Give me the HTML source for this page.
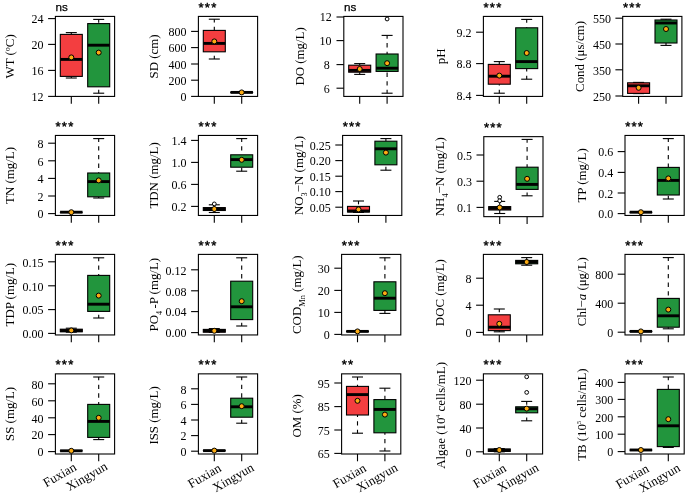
<!DOCTYPE html>
<html><head><meta charset="utf-8"><title>Boxplots</title>
<style>
html,body{margin:0;padding:0;background:#fff;}
svg{display:block;will-change:transform;opacity:0.999;}
text{fill:#000;}
.s{font-family:"Liberation Serif",serif;font-size:12px;}
.l{font-family:"Liberation Serif",serif;font-size:12.9px;}
.ns{font-family:"Liberation Sans",sans-serif;font-size:11.7px;stroke:#000;stroke-width:0.25px;}
.st{font-family:"Liberation Sans",sans-serif;font-size:13.2px;letter-spacing:1.14px;stroke:#000;stroke-width:0.4px;}
</style></head><body>
<svg width="685" height="496" viewBox="0 0 685 496">
<rect x="0" y="0" width="685" height="496" fill="#fff"/>
<line x1="71.30" y1="32.60" x2="71.30" y2="34.40" stroke="#000" stroke-width="1.1" stroke-dasharray="4.35 4.3" stroke-dashoffset="1"/>
<line x1="71.30" y1="78.00" x2="71.30" y2="76.40" stroke="#000" stroke-width="1.1" stroke-dasharray="4.35 4.3" stroke-dashoffset="1"/>
<line x1="65.80" y1="32.60" x2="76.80" y2="32.60" stroke="#000" stroke-width="1.1"/>
<line x1="65.80" y1="78.00" x2="76.80" y2="78.00" stroke="#000" stroke-width="1.1"/>
<rect x="60.30" y="34.40" width="22.00" height="42.00" fill="#f33e40" stroke="#000" stroke-width="1.1"/>
<line x1="60.30" y1="59.40" x2="82.30" y2="59.40" stroke="#000" stroke-width="2.9"/>
<circle cx="71.30" cy="57.40" r="2.5" fill="#fbab12" stroke="#000" stroke-width="1.0"/>
<line x1="98.70" y1="19.40" x2="98.70" y2="23.60" stroke="#000" stroke-width="1.1" stroke-dasharray="4.35 4.3" stroke-dashoffset="1"/>
<line x1="98.70" y1="93.20" x2="98.70" y2="86.80" stroke="#000" stroke-width="1.1" stroke-dasharray="4.35 4.3" stroke-dashoffset="1"/>
<line x1="93.20" y1="19.40" x2="104.20" y2="19.40" stroke="#000" stroke-width="1.1"/>
<line x1="93.20" y1="93.20" x2="104.20" y2="93.20" stroke="#000" stroke-width="1.1"/>
<rect x="87.70" y="23.60" width="22.00" height="63.20" fill="#22953d" stroke="#000" stroke-width="1.1"/>
<line x1="87.70" y1="45.20" x2="109.70" y2="45.20" stroke="#000" stroke-width="2.9"/>
<circle cx="98.70" cy="52.60" r="2.5" fill="#fbab12" stroke="#000" stroke-width="1.0"/>
<rect x="55.40" y="16.42" width="59.20" height="80.00" fill="none" stroke="#000" stroke-width="1.1"/>
<line x1="48.10" y1="18.60" x2="55.40" y2="18.60" stroke="#000" stroke-width="1.1"/>
<text x="43.60" y="23.40" text-anchor="end" class="s">24</text>
<line x1="48.10" y1="44.40" x2="55.40" y2="44.40" stroke="#000" stroke-width="1.1"/>
<text x="43.60" y="49.20" text-anchor="end" class="s">20</text>
<line x1="48.10" y1="70.40" x2="55.40" y2="70.40" stroke="#000" stroke-width="1.1"/>
<text x="43.60" y="75.20" text-anchor="end" class="s">16</text>
<line x1="48.10" y1="96.40" x2="55.40" y2="96.40" stroke="#000" stroke-width="1.1"/>
<text x="43.60" y="101.20" text-anchor="end" class="s">12</text>
<line x1="71.30" y1="96.42" x2="71.30" y2="103.72" stroke="#000" stroke-width="1.1"/>
<line x1="98.70" y1="96.42" x2="98.70" y2="103.72" stroke="#000" stroke-width="1.1"/>
<text transform="translate(14.30,56.42) rotate(-90)" text-anchor="middle" class="l">WT (ºC)</text>
<text x="55.60" y="11.02" class="ns">ns</text>
<line x1="214.30" y1="19.20" x2="214.30" y2="30.40" stroke="#000" stroke-width="1.1" stroke-dasharray="4.35 4.3" stroke-dashoffset="1"/>
<line x1="214.30" y1="59.00" x2="214.30" y2="51.80" stroke="#000" stroke-width="1.1" stroke-dasharray="4.35 4.3" stroke-dashoffset="1"/>
<line x1="208.80" y1="19.20" x2="219.80" y2="19.20" stroke="#000" stroke-width="1.1"/>
<line x1="208.80" y1="59.00" x2="219.80" y2="59.00" stroke="#000" stroke-width="1.1"/>
<rect x="203.30" y="30.40" width="22.00" height="21.40" fill="#f33e40" stroke="#000" stroke-width="1.1"/>
<line x1="203.30" y1="43.40" x2="225.30" y2="43.40" stroke="#000" stroke-width="2.9"/>
<circle cx="214.30" cy="41.40" r="2.5" fill="#fbab12" stroke="#000" stroke-width="1.0"/>
<line x1="230.70" y1="92.40" x2="252.70" y2="92.40" stroke="#000" stroke-width="1.1" stroke-linecap="round"/>
<line x1="230.50" y1="92.40" x2="252.90" y2="92.40" stroke="#000" stroke-width="2.9"/>
<circle cx="241.70" cy="92.40" r="2.5" fill="#fbab12" stroke="#000" stroke-width="1.0"/>
<rect x="198.40" y="16.42" width="59.20" height="80.00" fill="none" stroke="#000" stroke-width="1.1"/>
<line x1="191.10" y1="31.40" x2="198.40" y2="31.40" stroke="#000" stroke-width="1.1"/>
<text x="186.60" y="36.20" text-anchor="end" class="s">800</text>
<line x1="191.10" y1="47.60" x2="198.40" y2="47.60" stroke="#000" stroke-width="1.1"/>
<text x="186.60" y="52.40" text-anchor="end" class="s">600</text>
<line x1="191.10" y1="64.00" x2="198.40" y2="64.00" stroke="#000" stroke-width="1.1"/>
<text x="186.60" y="68.80" text-anchor="end" class="s">400</text>
<line x1="191.10" y1="80.20" x2="198.40" y2="80.20" stroke="#000" stroke-width="1.1"/>
<text x="186.60" y="85.00" text-anchor="end" class="s">200</text>
<line x1="191.10" y1="96.40" x2="198.40" y2="96.40" stroke="#000" stroke-width="1.1"/>
<text x="186.60" y="101.20" text-anchor="end" class="s">0</text>
<line x1="214.30" y1="96.42" x2="214.30" y2="103.72" stroke="#000" stroke-width="1.1"/>
<line x1="241.70" y1="96.42" x2="241.70" y2="103.72" stroke="#000" stroke-width="1.1"/>
<text transform="translate(158.00,56.42) rotate(-90)" text-anchor="middle" class="l">SD (cm)</text>
<text x="198.60" y="11.92" class="st">***</text>
<line x1="359.70" y1="63.60" x2="359.70" y2="65.20" stroke="#000" stroke-width="1.1" stroke-dasharray="4.35 4.3" stroke-dashoffset="1"/>
<line x1="359.70" y1="74.40" x2="359.70" y2="72.20" stroke="#000" stroke-width="1.1" stroke-dasharray="4.35 4.3" stroke-dashoffset="1"/>
<line x1="354.20" y1="63.60" x2="365.20" y2="63.60" stroke="#000" stroke-width="1.1"/>
<line x1="354.20" y1="74.40" x2="365.20" y2="74.40" stroke="#000" stroke-width="1.1"/>
<rect x="348.70" y="65.20" width="22.00" height="7.00" fill="#f33e40" stroke="#000" stroke-width="1.1"/>
<line x1="348.70" y1="70.40" x2="370.70" y2="70.40" stroke="#000" stroke-width="2.9"/>
<circle cx="359.70" cy="69.00" r="2.5" fill="#fbab12" stroke="#000" stroke-width="1.0"/>
<line x1="387.10" y1="35.40" x2="387.10" y2="54.00" stroke="#000" stroke-width="1.1" stroke-dasharray="4.35 4.3" stroke-dashoffset="1"/>
<line x1="387.10" y1="93.20" x2="387.10" y2="71.40" stroke="#000" stroke-width="1.1" stroke-dasharray="4.35 4.3" stroke-dashoffset="1"/>
<line x1="381.60" y1="35.40" x2="392.60" y2="35.40" stroke="#000" stroke-width="1.1"/>
<line x1="381.60" y1="93.20" x2="392.60" y2="93.20" stroke="#000" stroke-width="1.1"/>
<rect x="376.10" y="54.00" width="22.00" height="17.40" fill="#22953d" stroke="#000" stroke-width="1.1"/>
<line x1="376.10" y1="68.20" x2="398.10" y2="68.20" stroke="#000" stroke-width="2.9"/>
<circle cx="387.10" cy="19.00" r="1.9" fill="#fff" stroke="#000" stroke-width="1.0"/>
<circle cx="387.10" cy="63.20" r="2.5" fill="#fbab12" stroke="#000" stroke-width="1.0"/>
<rect x="343.80" y="16.42" width="59.20" height="80.00" fill="none" stroke="#000" stroke-width="1.1"/>
<line x1="336.50" y1="17.00" x2="343.80" y2="17.00" stroke="#000" stroke-width="1.1"/>
<text x="331.70" y="20.80" text-anchor="end" class="s">12</text>
<line x1="336.50" y1="40.60" x2="343.80" y2="40.60" stroke="#000" stroke-width="1.1"/>
<text x="331.60" y="45.40" text-anchor="end" class="s">10</text>
<line x1="336.50" y1="64.60" x2="343.80" y2="64.60" stroke="#000" stroke-width="1.1"/>
<text x="329.70" y="69.40" text-anchor="end" class="s">8</text>
<line x1="336.50" y1="88.20" x2="343.80" y2="88.20" stroke="#000" stroke-width="1.1"/>
<text x="329.70" y="93.00" text-anchor="end" class="s">6</text>
<line x1="359.70" y1="96.42" x2="359.70" y2="103.72" stroke="#000" stroke-width="1.1"/>
<line x1="387.10" y1="96.42" x2="387.10" y2="103.72" stroke="#000" stroke-width="1.1"/>
<text transform="translate(304.00,56.42) rotate(-90)" text-anchor="middle" class="l">DO (mg/L)</text>
<text x="344.00" y="11.02" class="ns">ns</text>
<line x1="499.30" y1="61.60" x2="499.30" y2="64.40" stroke="#000" stroke-width="1.1" stroke-dasharray="4.35 4.3" stroke-dashoffset="1"/>
<line x1="499.30" y1="93.20" x2="499.30" y2="84.20" stroke="#000" stroke-width="1.1" stroke-dasharray="4.35 4.3" stroke-dashoffset="1"/>
<line x1="493.80" y1="61.60" x2="504.80" y2="61.60" stroke="#000" stroke-width="1.1"/>
<line x1="493.80" y1="93.20" x2="504.80" y2="93.20" stroke="#000" stroke-width="1.1"/>
<rect x="488.30" y="64.40" width="22.00" height="19.80" fill="#f33e40" stroke="#000" stroke-width="1.1"/>
<line x1="488.30" y1="76.20" x2="510.30" y2="76.20" stroke="#000" stroke-width="2.9"/>
<circle cx="499.30" cy="75.60" r="2.5" fill="#fbab12" stroke="#000" stroke-width="1.0"/>
<line x1="526.70" y1="19.40" x2="526.70" y2="27.80" stroke="#000" stroke-width="1.1" stroke-dasharray="4.35 4.3" stroke-dashoffset="1"/>
<line x1="526.70" y1="79.20" x2="526.70" y2="68.60" stroke="#000" stroke-width="1.1" stroke-dasharray="4.35 4.3" stroke-dashoffset="1"/>
<line x1="521.20" y1="19.40" x2="532.20" y2="19.40" stroke="#000" stroke-width="1.1"/>
<line x1="521.20" y1="79.20" x2="532.20" y2="79.20" stroke="#000" stroke-width="1.1"/>
<rect x="515.70" y="27.80" width="22.00" height="40.80" fill="#22953d" stroke="#000" stroke-width="1.1"/>
<line x1="515.70" y1="61.60" x2="537.70" y2="61.60" stroke="#000" stroke-width="2.9"/>
<circle cx="526.70" cy="53.00" r="2.5" fill="#fbab12" stroke="#000" stroke-width="1.0"/>
<rect x="483.40" y="16.42" width="59.20" height="80.00" fill="none" stroke="#000" stroke-width="1.1"/>
<line x1="476.10" y1="32.20" x2="483.40" y2="32.20" stroke="#000" stroke-width="1.1"/>
<text x="471.60" y="37.00" text-anchor="end" class="s">9.2</text>
<line x1="476.10" y1="63.60" x2="483.40" y2="63.60" stroke="#000" stroke-width="1.1"/>
<text x="471.60" y="68.40" text-anchor="end" class="s">8.8</text>
<line x1="476.10" y1="95.40" x2="483.40" y2="95.40" stroke="#000" stroke-width="1.1"/>
<text x="471.60" y="100.20" text-anchor="end" class="s">8.4</text>
<line x1="499.30" y1="96.42" x2="499.30" y2="103.72" stroke="#000" stroke-width="1.1"/>
<line x1="526.70" y1="96.42" x2="526.70" y2="103.72" stroke="#000" stroke-width="1.1"/>
<text transform="translate(445.40,56.42) rotate(-90)" text-anchor="middle" class="l">pH</text>
<text x="483.60" y="11.92" class="st">***</text>
<line x1="638.60" y1="82.40" x2="638.60" y2="82.80" stroke="#000" stroke-width="1.1" stroke-dasharray="4.35 4.3" stroke-dashoffset="1"/>
<line x1="638.60" y1="93.60" x2="638.60" y2="93.40" stroke="#000" stroke-width="1.1" stroke-dasharray="4.35 4.3" stroke-dashoffset="1"/>
<line x1="633.10" y1="82.40" x2="644.10" y2="82.40" stroke="#000" stroke-width="1.1"/>
<line x1="633.10" y1="93.60" x2="644.10" y2="93.60" stroke="#000" stroke-width="1.1"/>
<rect x="627.60" y="82.80" width="22.00" height="10.60" fill="#f33e40" stroke="#000" stroke-width="1.1"/>
<line x1="627.60" y1="85.80" x2="649.60" y2="85.80" stroke="#000" stroke-width="2.9"/>
<circle cx="638.60" cy="87.80" r="2.5" fill="#fbab12" stroke="#000" stroke-width="1.0"/>
<line x1="666.00" y1="19.20" x2="666.00" y2="20.00" stroke="#000" stroke-width="1.1" stroke-dasharray="4.35 4.3" stroke-dashoffset="1"/>
<line x1="666.00" y1="45.40" x2="666.00" y2="43.00" stroke="#000" stroke-width="1.1" stroke-dasharray="4.35 4.3" stroke-dashoffset="1"/>
<line x1="660.50" y1="19.20" x2="671.50" y2="19.20" stroke="#000" stroke-width="1.1"/>
<line x1="660.50" y1="45.40" x2="671.50" y2="45.40" stroke="#000" stroke-width="1.1"/>
<rect x="655.00" y="20.00" width="22.00" height="23.00" fill="#22953d" stroke="#000" stroke-width="1.1"/>
<line x1="655.00" y1="23.00" x2="677.00" y2="23.00" stroke="#000" stroke-width="2.9"/>
<circle cx="666.00" cy="29.00" r="2.5" fill="#fbab12" stroke="#000" stroke-width="1.0"/>
<rect x="622.70" y="16.42" width="59.20" height="80.00" fill="none" stroke="#000" stroke-width="1.1"/>
<line x1="615.40" y1="18.20" x2="622.70" y2="18.20" stroke="#000" stroke-width="1.1"/>
<text x="610.90" y="23.00" text-anchor="end" class="s">550</text>
<line x1="615.40" y1="44.00" x2="622.70" y2="44.00" stroke="#000" stroke-width="1.1"/>
<text x="610.90" y="48.80" text-anchor="end" class="s">450</text>
<line x1="615.40" y1="69.80" x2="622.70" y2="69.80" stroke="#000" stroke-width="1.1"/>
<text x="610.90" y="74.60" text-anchor="end" class="s">350</text>
<line x1="615.40" y1="96.00" x2="622.70" y2="96.00" stroke="#000" stroke-width="1.1"/>
<text x="610.90" y="100.80" text-anchor="end" class="s">250</text>
<line x1="638.60" y1="96.42" x2="638.60" y2="103.72" stroke="#000" stroke-width="1.1"/>
<line x1="666.00" y1="96.42" x2="666.00" y2="103.72" stroke="#000" stroke-width="1.1"/>
<text transform="translate(583.60,56.42) rotate(-90)" text-anchor="middle" class="l">Cond (μs/cm)</text>
<text x="622.90" y="11.92" class="st">***</text>
<line x1="60.30" y1="212.20" x2="82.30" y2="212.20" stroke="#000" stroke-width="1.1" stroke-linecap="round"/>
<line x1="60.10" y1="212.20" x2="82.50" y2="212.20" stroke="#000" stroke-width="2.9"/>
<circle cx="71.30" cy="212.20" r="2.5" fill="#fbab12" stroke="#000" stroke-width="1.0"/>
<line x1="98.70" y1="138.60" x2="98.70" y2="173.00" stroke="#000" stroke-width="1.1" stroke-dasharray="4.35 4.3" stroke-dashoffset="1"/>
<line x1="98.70" y1="198.00" x2="98.70" y2="196.80" stroke="#000" stroke-width="1.1" stroke-dasharray="4.35 4.3" stroke-dashoffset="1"/>
<line x1="93.20" y1="138.60" x2="104.20" y2="138.60" stroke="#000" stroke-width="1.1"/>
<line x1="93.20" y1="198.00" x2="104.20" y2="198.00" stroke="#000" stroke-width="1.1"/>
<rect x="87.70" y="173.00" width="22.00" height="23.80" fill="#22953d" stroke="#000" stroke-width="1.1"/>
<line x1="87.70" y1="181.60" x2="109.70" y2="181.60" stroke="#000" stroke-width="2.9"/>
<circle cx="98.70" cy="180.40" r="2.5" fill="#fbab12" stroke="#000" stroke-width="1.0"/>
<rect x="55.40" y="135.45" width="59.20" height="80.00" fill="none" stroke="#000" stroke-width="1.1"/>
<line x1="48.10" y1="143.20" x2="55.40" y2="143.20" stroke="#000" stroke-width="1.1"/>
<text x="43.60" y="148.00" text-anchor="end" class="s">8</text>
<line x1="48.10" y1="160.80" x2="55.40" y2="160.80" stroke="#000" stroke-width="1.1"/>
<text x="43.60" y="165.60" text-anchor="end" class="s">6</text>
<line x1="48.10" y1="178.40" x2="55.40" y2="178.40" stroke="#000" stroke-width="1.1"/>
<text x="43.60" y="183.20" text-anchor="end" class="s">4</text>
<line x1="48.10" y1="196.00" x2="55.40" y2="196.00" stroke="#000" stroke-width="1.1"/>
<text x="43.60" y="200.80" text-anchor="end" class="s">2</text>
<line x1="48.10" y1="213.60" x2="55.40" y2="213.60" stroke="#000" stroke-width="1.1"/>
<text x="43.60" y="218.40" text-anchor="end" class="s">0</text>
<line x1="71.30" y1="215.45" x2="71.30" y2="222.75" stroke="#000" stroke-width="1.1"/>
<line x1="98.70" y1="215.45" x2="98.70" y2="222.75" stroke="#000" stroke-width="1.1"/>
<text transform="translate(14.30,175.45) rotate(-90)" text-anchor="middle" class="l">TN (mg/L)</text>
<text x="55.60" y="130.95" class="st">***</text>
<line x1="214.30" y1="204.80" x2="214.30" y2="207.60" stroke="#000" stroke-width="1.1" stroke-dasharray="4.35 4.3" stroke-dashoffset="1"/>
<line x1="214.30" y1="212.50" x2="214.30" y2="210.50" stroke="#000" stroke-width="1.1" stroke-dasharray="4.35 4.3" stroke-dashoffset="1"/>
<line x1="208.80" y1="204.80" x2="219.80" y2="204.80" stroke="#000" stroke-width="1.1"/>
<line x1="208.80" y1="212.50" x2="219.80" y2="212.50" stroke="#000" stroke-width="1.1"/>
<rect x="203.30" y="207.60" width="22.00" height="2.90" fill="#f33e40" stroke="#000" stroke-width="1.1"/>
<line x1="203.30" y1="209.05" x2="225.30" y2="209.05" stroke="#000" stroke-width="2.9"/>
<circle cx="214.30" cy="203.90" r="1.9" fill="#fff" stroke="#000" stroke-width="1.0"/>
<circle cx="214.30" cy="209.00" r="2.5" fill="#fbab12" stroke="#000" stroke-width="1.0"/>
<line x1="241.70" y1="138.60" x2="241.70" y2="154.80" stroke="#000" stroke-width="1.1" stroke-dasharray="4.35 4.3" stroke-dashoffset="1"/>
<line x1="241.70" y1="171.20" x2="241.70" y2="167.20" stroke="#000" stroke-width="1.1" stroke-dasharray="4.35 4.3" stroke-dashoffset="1"/>
<line x1="236.20" y1="138.60" x2="247.20" y2="138.60" stroke="#000" stroke-width="1.1"/>
<line x1="236.20" y1="171.20" x2="247.20" y2="171.20" stroke="#000" stroke-width="1.1"/>
<rect x="230.70" y="154.80" width="22.00" height="12.40" fill="#22953d" stroke="#000" stroke-width="1.1"/>
<line x1="230.70" y1="159.60" x2="252.70" y2="159.60" stroke="#000" stroke-width="2.9"/>
<circle cx="241.70" cy="159.80" r="2.5" fill="#fbab12" stroke="#000" stroke-width="1.0"/>
<rect x="198.40" y="135.45" width="59.20" height="80.00" fill="none" stroke="#000" stroke-width="1.1"/>
<line x1="191.10" y1="140.40" x2="198.40" y2="140.40" stroke="#000" stroke-width="1.1"/>
<text x="186.60" y="145.20" text-anchor="end" class="s">1.4</text>
<line x1="191.10" y1="162.40" x2="198.40" y2="162.40" stroke="#000" stroke-width="1.1"/>
<text x="186.60" y="167.20" text-anchor="end" class="s">1.0</text>
<line x1="191.10" y1="184.40" x2="198.40" y2="184.40" stroke="#000" stroke-width="1.1"/>
<text x="186.60" y="189.20" text-anchor="end" class="s">0.6</text>
<line x1="191.10" y1="206.40" x2="198.40" y2="206.40" stroke="#000" stroke-width="1.1"/>
<text x="186.60" y="211.20" text-anchor="end" class="s">0.2</text>
<line x1="214.30" y1="215.45" x2="214.30" y2="222.75" stroke="#000" stroke-width="1.1"/>
<line x1="241.70" y1="215.45" x2="241.70" y2="222.75" stroke="#000" stroke-width="1.1"/>
<text transform="translate(158.00,175.45) rotate(-90)" text-anchor="middle" class="l">TDN (mg/L)</text>
<text x="198.60" y="130.95" class="st">***</text>
<line x1="358.50" y1="201.00" x2="358.50" y2="206.40" stroke="#000" stroke-width="1.1" stroke-dasharray="4.35 4.3" stroke-dashoffset="1"/>
<line x1="358.50" y1="212.40" x2="358.50" y2="212.00" stroke="#000" stroke-width="1.1" stroke-dasharray="4.35 4.3" stroke-dashoffset="1"/>
<line x1="353.00" y1="201.00" x2="364.00" y2="201.00" stroke="#000" stroke-width="1.1"/>
<line x1="353.00" y1="212.40" x2="364.00" y2="212.40" stroke="#000" stroke-width="1.1"/>
<rect x="347.50" y="206.40" width="22.00" height="5.60" fill="#f33e40" stroke="#000" stroke-width="1.1"/>
<line x1="347.50" y1="211.00" x2="369.50" y2="211.00" stroke="#000" stroke-width="2.9"/>
<circle cx="358.50" cy="209.40" r="2.5" fill="#fbab12" stroke="#000" stroke-width="1.0"/>
<line x1="385.90" y1="138.60" x2="385.90" y2="141.20" stroke="#000" stroke-width="1.1" stroke-dasharray="4.35 4.3" stroke-dashoffset="1"/>
<line x1="385.90" y1="170.20" x2="385.90" y2="164.80" stroke="#000" stroke-width="1.1" stroke-dasharray="4.35 4.3" stroke-dashoffset="1"/>
<line x1="380.40" y1="138.60" x2="391.40" y2="138.60" stroke="#000" stroke-width="1.1"/>
<line x1="380.40" y1="170.20" x2="391.40" y2="170.20" stroke="#000" stroke-width="1.1"/>
<rect x="374.90" y="141.20" width="22.00" height="23.60" fill="#22953d" stroke="#000" stroke-width="1.1"/>
<line x1="374.90" y1="148.80" x2="396.90" y2="148.80" stroke="#000" stroke-width="2.9"/>
<circle cx="385.90" cy="152.60" r="2.5" fill="#fbab12" stroke="#000" stroke-width="1.0"/>
<rect x="342.60" y="135.45" width="59.20" height="80.00" fill="none" stroke="#000" stroke-width="1.1"/>
<line x1="335.30" y1="145.00" x2="342.60" y2="145.00" stroke="#000" stroke-width="1.1"/>
<text x="330.80" y="149.80" text-anchor="end" class="s">0.25</text>
<line x1="335.30" y1="160.60" x2="342.60" y2="160.60" stroke="#000" stroke-width="1.1"/>
<text x="330.80" y="165.40" text-anchor="end" class="s">0.20</text>
<line x1="335.30" y1="176.20" x2="342.60" y2="176.20" stroke="#000" stroke-width="1.1"/>
<text x="330.80" y="181.00" text-anchor="end" class="s">0.15</text>
<line x1="335.30" y1="191.60" x2="342.60" y2="191.60" stroke="#000" stroke-width="1.1"/>
<text x="330.80" y="196.40" text-anchor="end" class="s">0.10</text>
<line x1="335.30" y1="207.20" x2="342.60" y2="207.20" stroke="#000" stroke-width="1.1"/>
<text x="330.80" y="212.00" text-anchor="end" class="s">0.05</text>
<line x1="358.50" y1="215.45" x2="358.50" y2="222.75" stroke="#000" stroke-width="1.1"/>
<line x1="385.90" y1="215.45" x2="385.90" y2="222.75" stroke="#000" stroke-width="1.1"/>
<text transform="translate(302.80,175.45) rotate(-90)" text-anchor="middle" class="l">NO<tspan dy="3.7" font-size="8.4">3</tspan><tspan dy="-3.7">​</tspan>−N (mg/L)</text>
<text x="342.80" y="130.95" class="st">***</text>
<line x1="499.70" y1="201.40" x2="499.70" y2="206.60" stroke="#000" stroke-width="1.1" stroke-dasharray="4.35 4.3" stroke-dashoffset="1"/>
<line x1="499.70" y1="213.50" x2="499.70" y2="210.00" stroke="#000" stroke-width="1.1" stroke-dasharray="4.35 4.3" stroke-dashoffset="1"/>
<line x1="494.20" y1="201.40" x2="505.20" y2="201.40" stroke="#000" stroke-width="1.1"/>
<line x1="494.20" y1="213.50" x2="505.20" y2="213.50" stroke="#000" stroke-width="1.1"/>
<rect x="488.70" y="206.60" width="22.00" height="3.40" fill="#f33e40" stroke="#000" stroke-width="1.1"/>
<line x1="488.70" y1="208.30" x2="510.70" y2="208.30" stroke="#000" stroke-width="2.9"/>
<circle cx="499.70" cy="197.30" r="1.9" fill="#fff" stroke="#000" stroke-width="1.0"/>
<circle cx="499.70" cy="200.80" r="1.9" fill="#fff" stroke="#000" stroke-width="1.0"/>
<circle cx="499.70" cy="207.50" r="2.5" fill="#fbab12" stroke="#000" stroke-width="1.0"/>
<line x1="527.10" y1="139.40" x2="527.10" y2="167.20" stroke="#000" stroke-width="1.1" stroke-dasharray="4.35 4.3" stroke-dashoffset="1"/>
<line x1="527.10" y1="195.80" x2="527.10" y2="189.40" stroke="#000" stroke-width="1.1" stroke-dasharray="4.35 4.3" stroke-dashoffset="1"/>
<line x1="521.60" y1="139.40" x2="532.60" y2="139.40" stroke="#000" stroke-width="1.1"/>
<line x1="521.60" y1="195.80" x2="532.60" y2="195.80" stroke="#000" stroke-width="1.1"/>
<rect x="516.10" y="167.20" width="22.00" height="22.20" fill="#22953d" stroke="#000" stroke-width="1.1"/>
<line x1="516.10" y1="184.40" x2="538.10" y2="184.40" stroke="#000" stroke-width="2.9"/>
<circle cx="527.10" cy="178.80" r="2.5" fill="#fbab12" stroke="#000" stroke-width="1.0"/>
<rect x="483.80" y="136.65" width="59.20" height="80.00" fill="none" stroke="#000" stroke-width="1.1"/>
<line x1="476.50" y1="155.00" x2="483.80" y2="155.00" stroke="#000" stroke-width="1.1"/>
<text x="472.00" y="159.80" text-anchor="end" class="s">0.5</text>
<line x1="476.50" y1="181.20" x2="483.80" y2="181.20" stroke="#000" stroke-width="1.1"/>
<text x="472.00" y="186.00" text-anchor="end" class="s">0.3</text>
<line x1="476.50" y1="207.40" x2="483.80" y2="207.40" stroke="#000" stroke-width="1.1"/>
<text x="472.00" y="212.20" text-anchor="end" class="s">0.1</text>
<line x1="499.70" y1="216.65" x2="499.70" y2="223.95" stroke="#000" stroke-width="1.1"/>
<line x1="527.10" y1="216.65" x2="527.10" y2="223.95" stroke="#000" stroke-width="1.1"/>
<text transform="translate(444.40,176.65) rotate(-90)" text-anchor="middle" class="l">NH<tspan dy="3.7" font-size="8.4">4</tspan><tspan dy="-3.7">​</tspan>−N (mg/L)</text>
<text x="484.00" y="132.15" class="st">***</text>
<line x1="629.90" y1="212.20" x2="651.90" y2="212.20" stroke="#000" stroke-width="1.1" stroke-linecap="round"/>
<line x1="629.70" y1="212.20" x2="652.10" y2="212.20" stroke="#000" stroke-width="2.9"/>
<circle cx="640.90" cy="212.20" r="2.5" fill="#fbab12" stroke="#000" stroke-width="1.0"/>
<line x1="668.30" y1="138.60" x2="668.30" y2="167.40" stroke="#000" stroke-width="1.1" stroke-dasharray="4.35 4.3" stroke-dashoffset="1"/>
<line x1="668.30" y1="199.00" x2="668.30" y2="195.00" stroke="#000" stroke-width="1.1" stroke-dasharray="4.35 4.3" stroke-dashoffset="1"/>
<line x1="662.80" y1="138.60" x2="673.80" y2="138.60" stroke="#000" stroke-width="1.1"/>
<line x1="662.80" y1="199.00" x2="673.80" y2="199.00" stroke="#000" stroke-width="1.1"/>
<rect x="657.30" y="167.40" width="22.00" height="27.60" fill="#22953d" stroke="#000" stroke-width="1.1"/>
<line x1="657.30" y1="180.40" x2="679.30" y2="180.40" stroke="#000" stroke-width="2.9"/>
<circle cx="668.30" cy="178.40" r="2.5" fill="#fbab12" stroke="#000" stroke-width="1.0"/>
<rect x="625.00" y="135.45" width="59.20" height="80.00" fill="none" stroke="#000" stroke-width="1.1"/>
<line x1="617.70" y1="151.60" x2="625.00" y2="151.60" stroke="#000" stroke-width="1.1"/>
<text x="613.20" y="156.40" text-anchor="end" class="s">0.6</text>
<line x1="617.70" y1="172.40" x2="625.00" y2="172.40" stroke="#000" stroke-width="1.1"/>
<text x="613.20" y="177.20" text-anchor="end" class="s">0.4</text>
<line x1="617.70" y1="193.00" x2="625.00" y2="193.00" stroke="#000" stroke-width="1.1"/>
<text x="613.20" y="197.80" text-anchor="end" class="s">0.2</text>
<line x1="617.70" y1="213.60" x2="625.00" y2="213.60" stroke="#000" stroke-width="1.1"/>
<text x="613.20" y="218.40" text-anchor="end" class="s">0.0</text>
<line x1="640.90" y1="215.45" x2="640.90" y2="222.75" stroke="#000" stroke-width="1.1"/>
<line x1="668.30" y1="215.45" x2="668.30" y2="222.75" stroke="#000" stroke-width="1.1"/>
<text transform="translate(586.20,175.45) rotate(-90)" text-anchor="middle" class="l">TP (mg/L)</text>
<text x="625.20" y="130.95" class="st">***</text>
<line x1="71.30" y1="328.20" x2="71.30" y2="329.20" stroke="#000" stroke-width="1.1" stroke-dasharray="4.35 4.3" stroke-dashoffset="1"/>
<line x1="71.30" y1="332.20" x2="71.30" y2="331.80" stroke="#000" stroke-width="1.1" stroke-dasharray="4.35 4.3" stroke-dashoffset="1"/>
<line x1="65.80" y1="328.20" x2="76.80" y2="328.20" stroke="#000" stroke-width="1.1"/>
<line x1="65.80" y1="332.20" x2="76.80" y2="332.20" stroke="#000" stroke-width="1.1"/>
<rect x="60.30" y="329.20" width="22.00" height="2.60" fill="#f33e40" stroke="#000" stroke-width="1.1"/>
<line x1="60.30" y1="330.60" x2="82.30" y2="330.60" stroke="#000" stroke-width="2.9"/>
<circle cx="71.30" cy="330.40" r="2.5" fill="#fbab12" stroke="#000" stroke-width="1.0"/>
<line x1="98.70" y1="257.80" x2="98.70" y2="275.40" stroke="#000" stroke-width="1.1" stroke-dasharray="4.35 4.3" stroke-dashoffset="1"/>
<line x1="98.70" y1="318.00" x2="98.70" y2="311.40" stroke="#000" stroke-width="1.1" stroke-dasharray="4.35 4.3" stroke-dashoffset="1"/>
<line x1="93.20" y1="257.80" x2="104.20" y2="257.80" stroke="#000" stroke-width="1.1"/>
<line x1="93.20" y1="318.00" x2="104.20" y2="318.00" stroke="#000" stroke-width="1.1"/>
<rect x="87.70" y="275.40" width="22.00" height="36.00" fill="#22953d" stroke="#000" stroke-width="1.1"/>
<line x1="87.70" y1="304.20" x2="109.70" y2="304.20" stroke="#000" stroke-width="2.9"/>
<circle cx="98.70" cy="295.60" r="2.5" fill="#fbab12" stroke="#000" stroke-width="1.0"/>
<rect x="55.40" y="254.40" width="59.20" height="80.55" fill="none" stroke="#000" stroke-width="1.1"/>
<line x1="48.10" y1="261.80" x2="55.40" y2="261.80" stroke="#000" stroke-width="1.1"/>
<text x="43.60" y="266.60" text-anchor="end" class="s">0.15</text>
<line x1="48.10" y1="285.80" x2="55.40" y2="285.80" stroke="#000" stroke-width="1.1"/>
<text x="43.60" y="290.60" text-anchor="end" class="s">0.10</text>
<line x1="48.10" y1="309.60" x2="55.40" y2="309.60" stroke="#000" stroke-width="1.1"/>
<text x="43.60" y="314.40" text-anchor="end" class="s">0.05</text>
<line x1="48.10" y1="333.40" x2="55.40" y2="333.40" stroke="#000" stroke-width="1.1"/>
<text x="43.60" y="338.20" text-anchor="end" class="s">0.00</text>
<line x1="71.30" y1="334.95" x2="71.30" y2="342.25" stroke="#000" stroke-width="1.1"/>
<line x1="98.70" y1="334.95" x2="98.70" y2="342.25" stroke="#000" stroke-width="1.1"/>
<text transform="translate(14.30,294.68) rotate(-90)" text-anchor="middle" class="l">TDP (mg/L)</text>
<text x="55.60" y="249.90" class="st">***</text>
<line x1="214.30" y1="328.60" x2="214.30" y2="329.40" stroke="#000" stroke-width="1.1" stroke-dasharray="4.35 4.3" stroke-dashoffset="1"/>
<line x1="214.30" y1="332.40" x2="214.30" y2="332.20" stroke="#000" stroke-width="1.1" stroke-dasharray="4.35 4.3" stroke-dashoffset="1"/>
<line x1="208.80" y1="328.60" x2="219.80" y2="328.60" stroke="#000" stroke-width="1.1"/>
<line x1="208.80" y1="332.40" x2="219.80" y2="332.40" stroke="#000" stroke-width="1.1"/>
<rect x="203.30" y="329.40" width="22.00" height="2.80" fill="#f33e40" stroke="#000" stroke-width="1.1"/>
<line x1="203.30" y1="330.80" x2="225.30" y2="330.80" stroke="#000" stroke-width="2.9"/>
<circle cx="214.30" cy="330.80" r="2.5" fill="#fbab12" stroke="#000" stroke-width="1.0"/>
<line x1="241.70" y1="257.80" x2="241.70" y2="281.20" stroke="#000" stroke-width="1.1" stroke-dasharray="4.35 4.3" stroke-dashoffset="1"/>
<line x1="241.70" y1="326.00" x2="241.70" y2="319.60" stroke="#000" stroke-width="1.1" stroke-dasharray="4.35 4.3" stroke-dashoffset="1"/>
<line x1="236.20" y1="257.80" x2="247.20" y2="257.80" stroke="#000" stroke-width="1.1"/>
<line x1="236.20" y1="326.00" x2="247.20" y2="326.00" stroke="#000" stroke-width="1.1"/>
<rect x="230.70" y="281.20" width="22.00" height="38.40" fill="#22953d" stroke="#000" stroke-width="1.1"/>
<line x1="230.70" y1="306.80" x2="252.70" y2="306.80" stroke="#000" stroke-width="2.9"/>
<circle cx="241.70" cy="301.20" r="2.5" fill="#fbab12" stroke="#000" stroke-width="1.0"/>
<rect x="198.40" y="254.40" width="59.20" height="80.55" fill="none" stroke="#000" stroke-width="1.1"/>
<line x1="191.10" y1="269.80" x2="198.40" y2="269.80" stroke="#000" stroke-width="1.1"/>
<text x="186.60" y="274.60" text-anchor="end" class="s">0.12</text>
<line x1="191.10" y1="290.80" x2="198.40" y2="290.80" stroke="#000" stroke-width="1.1"/>
<text x="186.60" y="295.60" text-anchor="end" class="s">0.08</text>
<line x1="191.10" y1="311.60" x2="198.40" y2="311.60" stroke="#000" stroke-width="1.1"/>
<text x="186.60" y="316.40" text-anchor="end" class="s">0.04</text>
<line x1="191.10" y1="332.60" x2="198.40" y2="332.60" stroke="#000" stroke-width="1.1"/>
<text x="186.60" y="337.40" text-anchor="end" class="s">0.00</text>
<line x1="214.30" y1="334.95" x2="214.30" y2="342.25" stroke="#000" stroke-width="1.1"/>
<line x1="241.70" y1="334.95" x2="241.70" y2="342.25" stroke="#000" stroke-width="1.1"/>
<text transform="translate(158.00,294.68) rotate(-90)" text-anchor="middle" class="l">PO<tspan dy="3.7" font-size="8.4">4</tspan><tspan dy="-3.7">​</tspan><tspan dx="2.2">-P (mg/L)</tspan></text>
<text x="198.60" y="249.90" class="st">***</text>
<line x1="346.50" y1="331.40" x2="368.50" y2="331.40" stroke="#000" stroke-width="1.1" stroke-linecap="round"/>
<line x1="346.30" y1="331.40" x2="368.70" y2="331.40" stroke="#000" stroke-width="2.9"/>
<circle cx="357.50" cy="331.40" r="2.5" fill="#fbab12" stroke="#000" stroke-width="1.0"/>
<line x1="384.90" y1="257.80" x2="384.90" y2="281.80" stroke="#000" stroke-width="1.1" stroke-dasharray="4.35 4.3" stroke-dashoffset="1"/>
<line x1="384.90" y1="313.40" x2="384.90" y2="310.40" stroke="#000" stroke-width="1.1" stroke-dasharray="4.35 4.3" stroke-dashoffset="1"/>
<line x1="379.40" y1="257.80" x2="390.40" y2="257.80" stroke="#000" stroke-width="1.1"/>
<line x1="379.40" y1="313.40" x2="390.40" y2="313.40" stroke="#000" stroke-width="1.1"/>
<rect x="373.90" y="281.80" width="22.00" height="28.60" fill="#22953d" stroke="#000" stroke-width="1.1"/>
<line x1="373.90" y1="298.20" x2="395.90" y2="298.20" stroke="#000" stroke-width="2.9"/>
<circle cx="384.90" cy="293.20" r="2.5" fill="#fbab12" stroke="#000" stroke-width="1.0"/>
<rect x="341.60" y="254.40" width="59.20" height="80.55" fill="none" stroke="#000" stroke-width="1.1"/>
<line x1="334.30" y1="268.20" x2="341.60" y2="268.20" stroke="#000" stroke-width="1.1"/>
<text x="329.80" y="273.00" text-anchor="end" class="s">30</text>
<line x1="334.30" y1="290.40" x2="341.60" y2="290.40" stroke="#000" stroke-width="1.1"/>
<text x="329.80" y="295.20" text-anchor="end" class="s">20</text>
<line x1="334.30" y1="312.40" x2="341.60" y2="312.40" stroke="#000" stroke-width="1.1"/>
<text x="329.80" y="317.20" text-anchor="end" class="s">10</text>
<line x1="334.30" y1="334.40" x2="341.60" y2="334.40" stroke="#000" stroke-width="1.1"/>
<text x="329.80" y="339.20" text-anchor="end" class="s">0</text>
<line x1="357.50" y1="334.95" x2="357.50" y2="342.25" stroke="#000" stroke-width="1.1"/>
<line x1="384.90" y1="334.95" x2="384.90" y2="342.25" stroke="#000" stroke-width="1.1"/>
<text transform="translate(301.20,294.68) rotate(-90)" text-anchor="middle" class="l">COD<tspan dy="3.7" font-size="8.4">Mn</tspan><tspan dy="-3.7">​</tspan> (mg/L)</text>
<text x="341.80" y="249.90" class="st">***</text>
<line x1="499.30" y1="309.00" x2="499.30" y2="314.80" stroke="#000" stroke-width="1.1" stroke-dasharray="4.35 4.3" stroke-dashoffset="1"/>
<line x1="499.30" y1="331.80" x2="499.30" y2="330.60" stroke="#000" stroke-width="1.1" stroke-dasharray="4.35 4.3" stroke-dashoffset="1"/>
<line x1="493.80" y1="309.00" x2="504.80" y2="309.00" stroke="#000" stroke-width="1.1"/>
<line x1="493.80" y1="331.80" x2="504.80" y2="331.80" stroke="#000" stroke-width="1.1"/>
<rect x="488.30" y="314.80" width="22.00" height="15.80" fill="#f33e40" stroke="#000" stroke-width="1.1"/>
<line x1="488.30" y1="327.20" x2="510.30" y2="327.20" stroke="#000" stroke-width="2.9"/>
<circle cx="499.30" cy="323.80" r="2.5" fill="#fbab12" stroke="#000" stroke-width="1.0"/>
<line x1="526.70" y1="257.60" x2="526.70" y2="260.40" stroke="#000" stroke-width="1.1" stroke-dasharray="4.35 4.3" stroke-dashoffset="1"/>
<line x1="526.70" y1="265.20" x2="526.70" y2="263.80" stroke="#000" stroke-width="1.1" stroke-dasharray="4.35 4.3" stroke-dashoffset="1"/>
<line x1="521.20" y1="257.60" x2="532.20" y2="257.60" stroke="#000" stroke-width="1.1"/>
<line x1="521.20" y1="265.20" x2="532.20" y2="265.20" stroke="#000" stroke-width="1.1"/>
<rect x="515.70" y="260.40" width="22.00" height="3.40" fill="#22953d" stroke="#000" stroke-width="1.1"/>
<line x1="515.70" y1="262.10" x2="537.70" y2="262.10" stroke="#000" stroke-width="2.9"/>
<circle cx="526.70" cy="262.00" r="2.5" fill="#fbab12" stroke="#000" stroke-width="1.0"/>
<rect x="483.40" y="254.40" width="59.20" height="80.55" fill="none" stroke="#000" stroke-width="1.1"/>
<line x1="476.10" y1="278.20" x2="483.40" y2="278.20" stroke="#000" stroke-width="1.1"/>
<text x="471.60" y="283.00" text-anchor="end" class="s">8</text>
<line x1="476.10" y1="305.20" x2="483.40" y2="305.20" stroke="#000" stroke-width="1.1"/>
<text x="471.60" y="310.00" text-anchor="end" class="s">4</text>
<line x1="476.10" y1="332.40" x2="483.40" y2="332.40" stroke="#000" stroke-width="1.1"/>
<text x="471.60" y="337.20" text-anchor="end" class="s">0</text>
<line x1="499.30" y1="334.95" x2="499.30" y2="342.25" stroke="#000" stroke-width="1.1"/>
<line x1="526.70" y1="334.95" x2="526.70" y2="342.25" stroke="#000" stroke-width="1.1"/>
<text transform="translate(444.00,292.68) rotate(-90)" text-anchor="middle" class="l">DOC (mg/L)</text>
<text x="483.60" y="249.90" class="st">***</text>
<line x1="629.90" y1="331.40" x2="651.90" y2="331.40" stroke="#000" stroke-width="1.1" stroke-linecap="round"/>
<line x1="629.70" y1="331.40" x2="652.10" y2="331.40" stroke="#000" stroke-width="2.9"/>
<circle cx="640.90" cy="331.40" r="2.5" fill="#fbab12" stroke="#000" stroke-width="1.0"/>
<line x1="668.30" y1="257.60" x2="668.30" y2="298.40" stroke="#000" stroke-width="1.1" stroke-dasharray="4.35 4.3" stroke-dashoffset="1"/>
<line x1="668.30" y1="328.80" x2="668.30" y2="327.20" stroke="#000" stroke-width="1.1" stroke-dasharray="4.35 4.3" stroke-dashoffset="1"/>
<line x1="662.80" y1="257.60" x2="673.80" y2="257.60" stroke="#000" stroke-width="1.1"/>
<line x1="662.80" y1="328.80" x2="673.80" y2="328.80" stroke="#000" stroke-width="1.1"/>
<rect x="657.30" y="298.40" width="22.00" height="28.80" fill="#22953d" stroke="#000" stroke-width="1.1"/>
<line x1="657.30" y1="315.80" x2="679.30" y2="315.80" stroke="#000" stroke-width="2.9"/>
<circle cx="668.30" cy="309.60" r="2.5" fill="#fbab12" stroke="#000" stroke-width="1.0"/>
<rect x="625.00" y="254.40" width="59.20" height="80.55" fill="none" stroke="#000" stroke-width="1.1"/>
<line x1="617.70" y1="274.20" x2="625.00" y2="274.20" stroke="#000" stroke-width="1.1"/>
<text x="613.20" y="279.00" text-anchor="end" class="s">800</text>
<line x1="617.70" y1="303.20" x2="625.00" y2="303.20" stroke="#000" stroke-width="1.1"/>
<text x="613.20" y="308.00" text-anchor="end" class="s">400</text>
<line x1="617.70" y1="332.20" x2="625.00" y2="332.20" stroke="#000" stroke-width="1.1"/>
<text x="613.20" y="337.00" text-anchor="end" class="s">0</text>
<line x1="640.90" y1="334.95" x2="640.90" y2="342.25" stroke="#000" stroke-width="1.1"/>
<line x1="668.30" y1="334.95" x2="668.30" y2="342.25" stroke="#000" stroke-width="1.1"/>
<text transform="translate(586.00,291.68) rotate(-90)" text-anchor="middle" class="l">Chl−<tspan font-style="italic">a</tspan> (μg/L)</text>
<text x="625.20" y="249.90" class="st">***</text>
<line x1="60.30" y1="450.80" x2="82.30" y2="450.80" stroke="#000" stroke-width="1.1" stroke-linecap="round"/>
<line x1="60.10" y1="450.80" x2="82.50" y2="450.80" stroke="#000" stroke-width="2.9"/>
<circle cx="71.30" cy="450.80" r="2.5" fill="#fbab12" stroke="#000" stroke-width="1.0"/>
<line x1="98.70" y1="377.00" x2="98.70" y2="404.40" stroke="#000" stroke-width="1.1" stroke-dasharray="4.35 4.3" stroke-dashoffset="1"/>
<line x1="98.70" y1="439.60" x2="98.70" y2="437.40" stroke="#000" stroke-width="1.1" stroke-dasharray="4.35 4.3" stroke-dashoffset="1"/>
<line x1="93.20" y1="377.00" x2="104.20" y2="377.00" stroke="#000" stroke-width="1.1"/>
<line x1="93.20" y1="439.60" x2="104.20" y2="439.60" stroke="#000" stroke-width="1.1"/>
<rect x="87.70" y="404.40" width="22.00" height="33.00" fill="#22953d" stroke="#000" stroke-width="1.1"/>
<line x1="87.70" y1="421.40" x2="109.70" y2="421.40" stroke="#000" stroke-width="2.9"/>
<circle cx="98.70" cy="417.80" r="2.5" fill="#fbab12" stroke="#000" stroke-width="1.0"/>
<rect x="55.40" y="373.85" width="59.20" height="80.15" fill="none" stroke="#000" stroke-width="1.1"/>
<line x1="48.10" y1="383.80" x2="55.40" y2="383.80" stroke="#000" stroke-width="1.1"/>
<text x="43.60" y="388.60" text-anchor="end" class="s">80</text>
<line x1="48.10" y1="400.80" x2="55.40" y2="400.80" stroke="#000" stroke-width="1.1"/>
<text x="43.60" y="405.60" text-anchor="end" class="s">60</text>
<line x1="48.10" y1="417.80" x2="55.40" y2="417.80" stroke="#000" stroke-width="1.1"/>
<text x="43.60" y="422.60" text-anchor="end" class="s">40</text>
<line x1="48.10" y1="434.60" x2="55.40" y2="434.60" stroke="#000" stroke-width="1.1"/>
<text x="43.60" y="439.40" text-anchor="end" class="s">20</text>
<line x1="48.10" y1="451.60" x2="55.40" y2="451.60" stroke="#000" stroke-width="1.1"/>
<text x="43.60" y="456.40" text-anchor="end" class="s">0</text>
<line x1="71.30" y1="454.00" x2="71.30" y2="461.30" stroke="#000" stroke-width="1.1"/>
<line x1="98.70" y1="454.00" x2="98.70" y2="461.30" stroke="#000" stroke-width="1.1"/>
<text transform="translate(14.30,413.93) rotate(-90)" text-anchor="middle" class="l">SS (mg/L)</text>
<text x="55.60" y="369.35" class="st">***</text>
<text transform="translate(77.30,469.50) rotate(-30)" text-anchor="end" class="l">Fuxian</text>
<text transform="translate(108.40,468.80) rotate(-30)" text-anchor="end" class="l">Xingyun</text>
<line x1="203.30" y1="450.60" x2="225.30" y2="450.60" stroke="#000" stroke-width="1.1" stroke-linecap="round"/>
<line x1="203.10" y1="450.60" x2="225.50" y2="450.60" stroke="#000" stroke-width="2.9"/>
<circle cx="214.30" cy="450.60" r="2.5" fill="#fbab12" stroke="#000" stroke-width="1.0"/>
<line x1="241.70" y1="377.00" x2="241.70" y2="398.20" stroke="#000" stroke-width="1.1" stroke-dasharray="4.35 4.3" stroke-dashoffset="1"/>
<line x1="241.70" y1="423.20" x2="241.70" y2="417.20" stroke="#000" stroke-width="1.1" stroke-dasharray="4.35 4.3" stroke-dashoffset="1"/>
<line x1="236.20" y1="377.00" x2="247.20" y2="377.00" stroke="#000" stroke-width="1.1"/>
<line x1="236.20" y1="423.20" x2="247.20" y2="423.20" stroke="#000" stroke-width="1.1"/>
<rect x="230.70" y="398.20" width="22.00" height="19.00" fill="#22953d" stroke="#000" stroke-width="1.1"/>
<line x1="230.70" y1="406.80" x2="252.70" y2="406.80" stroke="#000" stroke-width="2.9"/>
<circle cx="241.70" cy="406.20" r="2.5" fill="#fbab12" stroke="#000" stroke-width="1.0"/>
<rect x="198.40" y="373.85" width="59.20" height="80.15" fill="none" stroke="#000" stroke-width="1.1"/>
<line x1="191.10" y1="388.80" x2="198.40" y2="388.80" stroke="#000" stroke-width="1.1"/>
<text x="186.60" y="393.60" text-anchor="end" class="s">8</text>
<line x1="191.10" y1="404.40" x2="198.40" y2="404.40" stroke="#000" stroke-width="1.1"/>
<text x="186.60" y="409.20" text-anchor="end" class="s">6</text>
<line x1="191.10" y1="420.00" x2="198.40" y2="420.00" stroke="#000" stroke-width="1.1"/>
<text x="186.60" y="424.80" text-anchor="end" class="s">4</text>
<line x1="191.10" y1="435.60" x2="198.40" y2="435.60" stroke="#000" stroke-width="1.1"/>
<text x="186.60" y="440.40" text-anchor="end" class="s">2</text>
<line x1="191.10" y1="451.20" x2="198.40" y2="451.20" stroke="#000" stroke-width="1.1"/>
<text x="186.60" y="456.00" text-anchor="end" class="s">0</text>
<line x1="214.30" y1="454.00" x2="214.30" y2="461.30" stroke="#000" stroke-width="1.1"/>
<line x1="241.70" y1="454.00" x2="241.70" y2="461.30" stroke="#000" stroke-width="1.1"/>
<text transform="translate(158.00,415.43) rotate(-90)" text-anchor="middle" class="l">ISS (mg/L)</text>
<text x="198.60" y="369.35" class="st">***</text>
<text transform="translate(222.10,470.50) rotate(-30)" text-anchor="end" class="l">Fuxian</text>
<text transform="translate(254.90,469.90) rotate(-30)" text-anchor="end" class="l">Xingyun</text>
<line x1="357.50" y1="377.00" x2="357.50" y2="386.40" stroke="#000" stroke-width="1.1" stroke-dasharray="4.35 4.3" stroke-dashoffset="1"/>
<line x1="357.50" y1="433.20" x2="357.50" y2="415.00" stroke="#000" stroke-width="1.1" stroke-dasharray="4.35 4.3" stroke-dashoffset="1"/>
<line x1="352.00" y1="377.00" x2="363.00" y2="377.00" stroke="#000" stroke-width="1.1"/>
<line x1="352.00" y1="433.20" x2="363.00" y2="433.20" stroke="#000" stroke-width="1.1"/>
<rect x="346.50" y="386.40" width="22.00" height="28.60" fill="#f33e40" stroke="#000" stroke-width="1.1"/>
<line x1="346.50" y1="394.60" x2="368.50" y2="394.60" stroke="#000" stroke-width="2.9"/>
<circle cx="357.50" cy="400.80" r="2.5" fill="#fbab12" stroke="#000" stroke-width="1.0"/>
<line x1="384.90" y1="388.20" x2="384.90" y2="399.60" stroke="#000" stroke-width="1.1" stroke-dasharray="4.35 4.3" stroke-dashoffset="1"/>
<line x1="384.90" y1="451.00" x2="384.90" y2="432.80" stroke="#000" stroke-width="1.1" stroke-dasharray="4.35 4.3" stroke-dashoffset="1"/>
<line x1="379.40" y1="388.20" x2="390.40" y2="388.20" stroke="#000" stroke-width="1.1"/>
<line x1="379.40" y1="451.00" x2="390.40" y2="451.00" stroke="#000" stroke-width="1.1"/>
<rect x="373.90" y="399.60" width="22.00" height="33.20" fill="#22953d" stroke="#000" stroke-width="1.1"/>
<line x1="373.90" y1="409.40" x2="395.90" y2="409.40" stroke="#000" stroke-width="2.9"/>
<circle cx="384.90" cy="414.60" r="2.5" fill="#fbab12" stroke="#000" stroke-width="1.0"/>
<rect x="341.60" y="373.85" width="59.20" height="80.15" fill="none" stroke="#000" stroke-width="1.1"/>
<line x1="334.30" y1="383.00" x2="341.60" y2="383.00" stroke="#000" stroke-width="1.1"/>
<text x="329.80" y="387.80" text-anchor="end" class="s">95</text>
<line x1="334.30" y1="406.60" x2="341.60" y2="406.60" stroke="#000" stroke-width="1.1"/>
<text x="329.80" y="411.40" text-anchor="end" class="s">85</text>
<line x1="334.30" y1="430.00" x2="341.60" y2="430.00" stroke="#000" stroke-width="1.1"/>
<text x="329.80" y="434.80" text-anchor="end" class="s">75</text>
<line x1="334.30" y1="453.40" x2="341.60" y2="453.40" stroke="#000" stroke-width="1.1"/>
<text x="329.80" y="458.20" text-anchor="end" class="s">65</text>
<line x1="357.50" y1="454.00" x2="357.50" y2="461.30" stroke="#000" stroke-width="1.1"/>
<line x1="384.90" y1="454.00" x2="384.90" y2="461.30" stroke="#000" stroke-width="1.1"/>
<text transform="translate(301.20,415.93) rotate(-90)" text-anchor="middle" class="l">OM (%)</text>
<text x="341.80" y="369.35" class="st">**</text>
<text transform="translate(367.10,470.50) rotate(-30)" text-anchor="end" class="l">Fuxian</text>
<text transform="translate(398.60,469.90) rotate(-30)" text-anchor="end" class="l">Xingyun</text>
<line x1="499.30" y1="448.60" x2="499.30" y2="449.00" stroke="#000" stroke-width="1.1" stroke-dasharray="4.35 4.3" stroke-dashoffset="1"/>
<line x1="499.30" y1="451.80" x2="499.30" y2="451.40" stroke="#000" stroke-width="1.1" stroke-dasharray="4.35 4.3" stroke-dashoffset="1"/>
<line x1="493.80" y1="448.60" x2="504.80" y2="448.60" stroke="#000" stroke-width="1.1"/>
<line x1="493.80" y1="451.80" x2="504.80" y2="451.80" stroke="#000" stroke-width="1.1"/>
<rect x="488.30" y="449.00" width="22.00" height="2.40" fill="#f33e40" stroke="#000" stroke-width="1.1"/>
<line x1="488.30" y1="450.20" x2="510.30" y2="450.20" stroke="#000" stroke-width="2.9"/>
<circle cx="499.30" cy="450.00" r="2.5" fill="#fbab12" stroke="#000" stroke-width="1.0"/>
<line x1="526.70" y1="401.40" x2="526.70" y2="406.80" stroke="#000" stroke-width="1.1" stroke-dasharray="4.35 4.3" stroke-dashoffset="1"/>
<line x1="526.70" y1="420.80" x2="526.70" y2="412.80" stroke="#000" stroke-width="1.1" stroke-dasharray="4.35 4.3" stroke-dashoffset="1"/>
<line x1="521.20" y1="401.40" x2="532.20" y2="401.40" stroke="#000" stroke-width="1.1"/>
<line x1="521.20" y1="420.80" x2="532.20" y2="420.80" stroke="#000" stroke-width="1.1"/>
<rect x="515.70" y="406.80" width="22.00" height="6.00" fill="#22953d" stroke="#000" stroke-width="1.1"/>
<line x1="515.70" y1="408.80" x2="537.70" y2="408.80" stroke="#000" stroke-width="2.9"/>
<circle cx="526.70" cy="376.80" r="1.9" fill="#fff" stroke="#000" stroke-width="1.0"/>
<circle cx="526.70" cy="392.40" r="1.9" fill="#fff" stroke="#000" stroke-width="1.0"/>
<circle cx="526.70" cy="408.60" r="2.5" fill="#fbab12" stroke="#000" stroke-width="1.0"/>
<rect x="483.40" y="373.85" width="59.20" height="80.15" fill="none" stroke="#000" stroke-width="1.1"/>
<line x1="476.10" y1="380.20" x2="483.40" y2="380.20" stroke="#000" stroke-width="1.1"/>
<text x="471.60" y="385.00" text-anchor="end" class="s">120</text>
<line x1="476.10" y1="404.20" x2="483.40" y2="404.20" stroke="#000" stroke-width="1.1"/>
<text x="471.60" y="409.00" text-anchor="end" class="s">80</text>
<line x1="476.10" y1="428.00" x2="483.40" y2="428.00" stroke="#000" stroke-width="1.1"/>
<text x="471.60" y="432.80" text-anchor="end" class="s">40</text>
<line x1="476.10" y1="451.80" x2="483.40" y2="451.80" stroke="#000" stroke-width="1.1"/>
<text x="471.60" y="456.60" text-anchor="end" class="s">0</text>
<line x1="499.30" y1="454.00" x2="499.30" y2="461.30" stroke="#000" stroke-width="1.1"/>
<line x1="526.70" y1="454.00" x2="526.70" y2="461.30" stroke="#000" stroke-width="1.1"/>
<text transform="translate(445.00,415.43) rotate(-90)" text-anchor="middle" class="l">Algae (10<tspan dy="-4.6" font-size="6">4</tspan><tspan dy="4.6">​</tspan> cells/mL)</text>
<text x="483.60" y="369.35" class="st">***</text>
<text transform="translate(507.20,470.50) rotate(-30)" text-anchor="end" class="l">Fuxian</text>
<text transform="translate(539.70,469.90) rotate(-30)" text-anchor="end" class="l">Xingyun</text>
<line x1="629.90" y1="450.00" x2="651.90" y2="450.00" stroke="#000" stroke-width="1.1" stroke-linecap="round"/>
<line x1="629.70" y1="450.00" x2="652.10" y2="450.00" stroke="#000" stroke-width="2.9"/>
<circle cx="640.90" cy="450.00" r="2.5" fill="#fbab12" stroke="#000" stroke-width="1.0"/>
<line x1="668.30" y1="377.00" x2="668.30" y2="389.40" stroke="#000" stroke-width="1.1" stroke-dasharray="4.35 4.3" stroke-dashoffset="1"/>
<line x1="668.30" y1="447.40" x2="668.30" y2="446.60" stroke="#000" stroke-width="1.1" stroke-dasharray="4.35 4.3" stroke-dashoffset="1"/>
<line x1="662.80" y1="377.00" x2="673.80" y2="377.00" stroke="#000" stroke-width="1.1"/>
<line x1="662.80" y1="447.40" x2="673.80" y2="447.40" stroke="#000" stroke-width="1.1"/>
<rect x="657.30" y="389.40" width="22.00" height="57.20" fill="#22953d" stroke="#000" stroke-width="1.1"/>
<line x1="657.30" y1="425.80" x2="679.30" y2="425.80" stroke="#000" stroke-width="2.9"/>
<circle cx="668.30" cy="419.20" r="2.5" fill="#fbab12" stroke="#000" stroke-width="1.0"/>
<rect x="625.00" y="373.85" width="59.20" height="80.15" fill="none" stroke="#000" stroke-width="1.1"/>
<line x1="617.70" y1="382.40" x2="625.00" y2="382.40" stroke="#000" stroke-width="1.1"/>
<text x="613.20" y="387.20" text-anchor="end" class="s">400</text>
<line x1="617.70" y1="399.40" x2="625.00" y2="399.40" stroke="#000" stroke-width="1.1"/>
<text x="613.20" y="404.20" text-anchor="end" class="s">300</text>
<line x1="617.70" y1="416.80" x2="625.00" y2="416.80" stroke="#000" stroke-width="1.1"/>
<text x="613.20" y="421.60" text-anchor="end" class="s">200</text>
<line x1="617.70" y1="434.20" x2="625.00" y2="434.20" stroke="#000" stroke-width="1.1"/>
<text x="613.20" y="439.00" text-anchor="end" class="s">100</text>
<line x1="617.70" y1="451.60" x2="625.00" y2="451.60" stroke="#000" stroke-width="1.1"/>
<text x="613.20" y="456.40" text-anchor="end" class="s">0</text>
<line x1="640.90" y1="454.00" x2="640.90" y2="461.30" stroke="#000" stroke-width="1.1"/>
<line x1="668.30" y1="454.00" x2="668.30" y2="461.30" stroke="#000" stroke-width="1.1"/>
<text transform="translate(586.00,414.62) rotate(-90)" text-anchor="middle" class="l">TB (10<tspan dy="-4.6" font-size="6">5</tspan><tspan dy="4.6">​</tspan> cells/mL)</text>
<text x="625.20" y="369.35" class="st">***</text>
<text transform="translate(649.90,471.00) rotate(-30)" text-anchor="end" class="l">Fuxian</text>
<text transform="translate(681.10,470.30) rotate(-30)" text-anchor="end" class="l">Xingyun</text>
</svg>
</body></html>
